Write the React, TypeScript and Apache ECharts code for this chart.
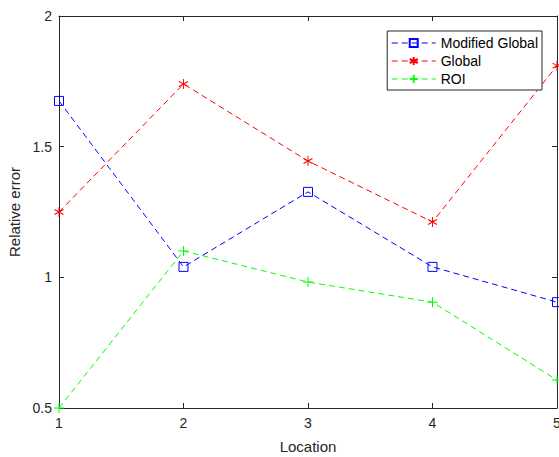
import React, { useEffect, useRef } from "react";
import * as echarts from "echarts";

const locations = [1, 2, 3, 4, 5];
const modifiedGlobal = [1.675, 1.04, 1.327, 1.04, 0.905];
const globalErr = [1.25, 1.74, 1.445, 1.212, 1.81];
const roi = [0.5, 1.101, 0.982, 0.905, 0.607];
const yTicks = [0.5, 1, 1.5, 2];

const AX = "#262626";
const FONT = "'Liberation Sans', Arial, sans-serif";

const STAR = "path://M0,-5L0,5M-4.33,-2.5L4.33,2.5M-4.33,2.5L4.33,-2.5";
const PLUS = "path://M-5,0L5,0M0,-5L0,5";

function pts(vals: number[]) {
  return vals.map((v, i) => [locations[i], v]);
}

export default function App() {
  const ref = useRef<HTMLDivElement>(null);
  useEffect(() => {
    if (!ref.current) return;
    const chart = echarts.init(ref.current, undefined, { renderer: "svg" });
    const axisCommon = {
      axisLine: { show: true, onZero: false, lineStyle: { color: AX, width: 1 } },
      axisTick: { show: true, inside: true, length: 5, lineStyle: { color: AX } },
      splitLine: { show: false },
    };
    const mkLine = (name: string, color: string, data: number[], symbol: string, size: any, extra: any = {}) => ({
      name,
      type: "line",
      data: pts(data),
      symbol,
      symbolSize: size,
      showAllSymbol: true,
      lineStyle: { color, width: 1, type: [6, 4] },
      itemStyle: { color: extra.fill ?? color, borderColor: color, borderWidth: 1 },
      emphasis: { disabled: true },
      z: extra.z ?? 2,
      clip: false,
    });
    chart.setOption({
      animation: false,
      backgroundColor: "#ffffff",
      textStyle: { fontFamily: FONT },
      grid: {
        left: 59,
        right: 2,
        top: 16,
        bottom: 49,
        containLabel: false,
        outerBoundsMode: "none",
      },
      legend: {
        right: 17,
        top: 31,
        orient: "vertical",
        backgroundColor: "#ffffff",
        borderColor: AX,
        borderWidth: 1,
        borderRadius: 0,
        padding: [5, 4, 4, 4],
        itemGap: 4,
        itemWidth: 44,
        itemHeight: 10,
        lineStyle: { width: 1 },
        textStyle: { color: "#000000", fontSize: 14, fontFamily: FONT },
        data: ["Modified Global", "Global", "ROI"],
      },
      xAxis: [
        {
          type: "value",
          position: "bottom",
          min: 1,
          max: 5,
          interval: 1,
          name: "Location",
          nameLocation: "middle",
          nameGap: 31,
          nameTextStyle: { color: AX, fontSize: 15, fontFamily: FONT },
          axisLabel: { color: AX, fontSize: 14, margin: 8, fontFamily: FONT },
          ...axisCommon,
        },
        {
          type: "value",
          position: "top",
          min: 1,
          max: 5,
          interval: 1,
          axisLabel: { show: false },
          ...axisCommon,
        },
      ],
      yAxis: [
        {
          type: "value",
          position: "left",
          min: 0.5,
          max: 2,
          interval: 0.5,
          name: "Relative error",
          nameLocation: "middle",
          nameGap: 35,
          nameTextStyle: { color: AX, fontSize: 15, fontFamily: FONT },
          axisLabel: {
            color: AX,
            fontSize: 14,
            margin: 7,
            fontFamily: FONT,
            formatter: (v: number) => (yTicks.includes(v) ? String(v) : ""),
          },
          ...axisCommon,
        },
        {
          type: "value",
          position: "right",
          min: 0.5,
          max: 2,
          interval: 0.5,
          axisLabel: { show: false },
          ...axisCommon,
        },
      ],
      series: [
        mkLine("Modified Global", "#0000ff", modifiedGlobal, "rect", 9, { fill: "none", z: 3 }),
        mkLine("Global", "#ff0000", globalErr, STAR, [9, 10], { fill: "none" }),
        mkLine("ROI", "#00ff00", roi, PLUS, 10, { fill: "none" }),
      ],
    });
    return () => chart.dispose();
  }, []);
  return (
    <div
      ref={ref}
      style={{ position: "fixed", left: 0, top: 0, width: 559, height: 457 }}
    />
  );
}
